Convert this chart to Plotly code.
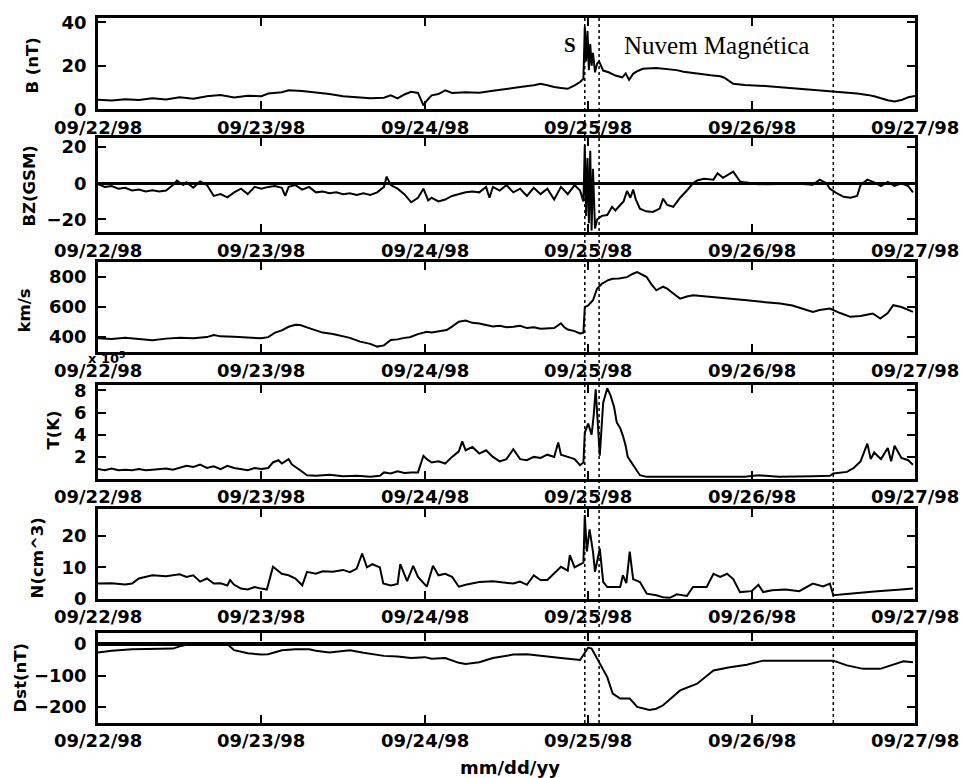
import pandas as pd
import plotly.graph_objects as go
from plotly.subplots import make_subplots

# ---------------- data (hours since 1998-09-22 00:00 UT) ----------------
b_hours = [0, 2, 4, 6, 8, 10, 12, 14, 16, 18, 20, 22, 24, 25, 27, 28, 30, 32, 34, 36, 38, 40, 42, 43, 44, 45, 46, 47,
           47.8, 48.3, 49, 50, 51, 52, 54, 56, 58, 60, 62, 64, 65, 66, 67, 68, 69, 70, 70.8, 71.3, 71.5, 71.7, 71.9,
           72.1, 72.3, 72.5, 72.7, 73, 73.3, 73.6, 74.2, 75, 76, 77, 77.5, 78, 78.6, 79.2, 80, 82, 83.6, 85, 86, 88,
           90, 91.4, 92, 93.3, 95, 98, 100, 103, 105, 107.5, 110, 111.5, 113, 114, 116, 117, 118, 119, 120]
b_vals = [4.4, 4.0, 4.6, 4.2, 5.0, 4.5, 5.5, 4.8, 6.0, 6.5, 5.4, 6.2, 6.0, 7.2, 7.8, 8.7, 8.4, 7.8, 7.0, 6.0, 5.4, 5.0,
          5.3, 6.4, 5.0, 6.8, 8.0, 7.5, 1.8, 4.0, 6.4, 7.0, 8.7, 7.5, 7.8, 7.6, 8.5, 9.5, 10.2, 11.0, 11.7, 11.0, 10.2,
          9.8, 9.4, 11.0, 12.5, 14, 38, 22, 36, 18, 30, 20, 26, 17, 20.9, 22, 17.8, 17.0, 15.5, 14.7, 16.5, 13.5, 16.3,
          17.5, 18.6, 19.0, 18.6, 18.0, 17.3, 16.3, 15.6, 15.2, 14.5, 11.7, 11.2, 10.7, 10.2, 9.4, 8.8, 8.2, 7.8, 7.2,
          6.6, 6.0, 4.1, 3.6, 4.2, 5.5, 6.1]

bz_hours = [0, 1, 2, 3, 4, 5, 6, 7, 8, 9, 10, 11, 11.6, 12.5, 13, 14, 15, 16, 17, 18, 19, 20, 21, 22, 23, 24, 25, 26,
            27, 27.5, 28, 29, 30, 31, 32, 33, 34, 35, 36, 37, 38, 39, 40, 41, 42, 42.4, 43, 44, 45, 46, 47, 47.8,
            48.5, 49, 50, 51, 52, 53, 54, 55, 56, 57, 57.5, 58, 59, 60, 61, 62, 63, 64, 65, 66, 67, 68, 69, 70, 70.8,
            71.3, 71.5, 71.7, 71.9, 72.1, 72.3, 72.5, 72.7, 73, 73.3, 74, 74.8, 75.5, 76, 76.7, 77.2, 77.7, 78.2,
            78.6, 79, 79.6, 80.5, 81.5, 82.5, 83, 83.6, 84.5, 85.5, 86.5, 87.4, 88, 89, 90.4, 91, 91.8, 92.5, 93.3,
            94.3, 95, 97, 100, 103, 105, 106, 107, 107.5, 108.5, 109.5, 110.5, 111.5, 112, 113, 114, 115, 116, 117,
            118, 119, 119.7]
bz_vals = [-0.5, -2, -1.5, -3, -2.5, -4, -3.5, -4.5, -3.8, -4.5, -4, -1, 1.5, -1, 0.5, -2.5, 1.0, -1, -7, -6, -7.8, -5,
           -3, -6, -2, -3, -2, -1.5, -2.5, -7, -2, -1, -3.5, -2, -5, -4.5, -5.5, -5, -6, -5.5, -6.5, -5.5, -6.5, -5,
           -2, 3.7, -1, -3, -6, -10.5, -8, -3, -9.5, -8, -10, -9, -7, -6, -5, -4.5, -5, -2, -8, -2, -4, -1, -5, -3,
           -7, -2.5, -6, -3, -9, -2, -6, -1, -4, -10, 21, -18, 14, -22, 18, -26, 8, -25, -20, -18, -17.5, -13, -15,
           -12, -10, -4.3, -8, -3.5, -9, -14, -15.5, -15.8, -14, -8.5, -12, -13, -8, -4, 0, 1.5, 2.5, 2, 5.5, 3, 4.5,
           6.4, 1, 0.5, -0.5, -0.5, -0.3, -0.8, 2, 0, -3, -5.5, -7.5, -8, -7, -1, 2, 0.5, -1.5, 0.8, -1.5, 0, -1.5,
           -5]

v_hours = [0, 2, 4, 6, 8, 10, 12, 14, 16, 17, 18, 20, 22, 24, 25, 26, 27, 28, 29, 29.7, 31, 32, 33, 34.5, 36, 37,
           38.5, 40, 41, 42, 43, 44, 45, 45.8, 47, 48.3, 49, 50, 51.2, 52, 53, 54, 55, 56, 57, 58, 59, 60, 61, 62,
           63, 64, 65, 66, 67, 68, 68.5, 69, 70, 70.8, 71.3, 71.5, 72, 72.7, 73.3, 74, 75, 75.6, 76.5, 77.7, 78.5,
           79.2, 80, 80.6, 81.3, 82, 83, 83.6, 84.5, 85.5, 86.5, 87.4, 89, 90.4, 93, 95.3, 98, 100.2, 102, 104, 105,
           106, 107.5, 109, 110.5, 112, 113.8, 114.9, 116, 116.8, 118, 119.7]
v_vals = [392, 388, 395, 385, 380, 390, 395, 392, 400, 414, 405, 402, 395, 392, 400, 430, 445, 469, 482, 480, 460, 447,
          430, 421, 405, 395, 370, 355, 337, 345, 381, 385, 395, 399, 420, 436, 430, 440, 447, 470, 502, 510, 495, 491,
          480, 470, 475, 465, 469, 475, 460, 465, 455, 458, 460, 491, 465, 450, 440, 425, 430, 600, 610, 645, 722, 755,
          780, 788, 790, 799, 820, 832, 810, 799, 750, 711, 735, 722, 690, 656, 670, 678, 672, 667, 655, 645, 632, 623,
          610, 585, 568, 580, 590, 560, 535, 540, 557, 524, 560, 612, 600, 568]

t_hours = [0, 1, 2, 3, 4, 5, 6, 7, 8, 9, 10, 11, 12, 13, 14, 15, 16, 17, 18, 19, 20, 21, 22, 23, 24, 25, 25.7, 26.5,
           27, 28, 28.5, 29.7, 30.7, 32, 34, 36, 38, 40, 41.4, 42, 43, 44, 45, 46, 47, 47.8, 48.3, 49, 50, 51, 52, 53,
           53.5, 54, 55, 56, 57, 58, 59, 60, 61, 62, 63, 64, 65, 66, 67, 67.6, 68, 69, 70, 70.8, 71.3, 71.5, 72, 72.5,
           72.8, 73.1, 73.4, 73.7, 74.2, 74.8, 75.3, 75.8, 76.2, 76.7, 77.1, 77.5, 77.8, 78.6, 79.6, 80.6, 85, 90, 95,
           97, 100, 105, 107.5, 108, 110, 111, 112, 113, 113.5, 114, 115, 116, 116.5, 117, 118, 119, 119.7]
t_vals = [0.9, 0.8, 0.95, 0.8, 0.85, 0.8, 0.9, 0.8, 0.85, 0.9, 0.95, 0.85, 1.0, 1.2, 1.1, 1.3, 1.0, 1.15, 0.9, 1.2,
          1.0, 0.9, 0.8, 1.0, 0.9, 1.0, 1.5, 1.7, 1.4, 1.8, 1.3, 0.8, 0.35, 0.3, 0.4, 0.25, 0.3, 0.2, 0.3, 0.6, 0.5,
          0.7, 0.55, 0.6, 0.6, 2.1, 1.8, 1.5, 1.6, 1.4, 2.0, 2.5, 3.4, 2.6, 2.9, 2.3, 2.6, 2.0, 1.6, 1.8, 2.7, 1.8,
          1.7, 2.0, 1.9, 2.2, 2.0, 3.3, 2.2, 2.0, 1.8, 1.25, 1.5, 4.2, 5.0, 4.0, 5.7, 8.1, 5.5, 2.1, 6.9, 8.2, 7.5,
          6.5, 5.1, 4.6, 3.9, 3.0, 2.0, 1.25, 0.35, 0.2, 0.2, 0.25, 0.2, 0.35, 0.2, 0.25, 0.3, 0.5, 0.65, 1.0, 1.6,
          3.2, 1.8, 2.4, 1.8, 2.8, 1.6, 3.0, 1.9, 1.7, 1.3]

n_hours = [0, 2, 4, 5, 6, 8, 10, 12, 13, 14, 15, 16, 17, 18, 19, 19.4, 20, 21, 22, 23, 24, 24.8, 25.7, 26.5, 27, 28,
           29, 29.7, 30, 30.7, 32, 33, 34.5, 36, 37, 38, 38.8, 39.5, 40.3, 41.4, 41.9, 43, 44, 44.4, 45.4, 46.3, 47,
           48.3, 49.2, 50, 51, 52, 53, 54, 55, 56, 58, 60, 61, 62, 63, 64, 65, 66, 67, 68, 69, 69.3, 70, 70.8, 71.3,
           71.5, 71.8, 72.2, 72.7, 73, 73.7, 74.2, 74.8, 76.7, 77.1, 77.6, 78.1, 78.6, 79.6, 80.6, 82, 83, 84, 85,
           86.5, 87.4, 89.4, 90.4, 91.4, 92.4, 93.3, 94.3, 96, 97, 97.7, 99, 101, 103, 105, 106.5, 107.5, 108, 110,
           112, 114, 116, 118, 119.7]
n_vals = [4.9, 5.0, 4.6, 4.9, 6.5, 7.5, 7.2, 7.8, 7.0, 7.5, 5.5, 6.5, 4.9, 5.0, 4.3, 6.0, 4.5, 3.3, 3.0, 3.8, 3.3, 3.0,
          10.2, 9.0, 8.0, 7.5, 6.5, 5.0, 4.3, 8.6, 8.0, 8.8, 8.6, 9.2, 8.5, 9.6, 14.4, 10.0, 11.0, 10.0, 4.9, 4.3,
          4.8, 11.0, 5.7, 10.5, 7.0, 3.9, 10.5, 7.5, 8.0, 7.0, 3.9, 4.5, 5.0, 5.4, 5.6, 5.0, 4.9, 5.5, 4.5, 7.5, 6.0,
          6.0, 8.0, 10.2, 9.0, 13.9, 10.0, 10.8, 11.5, 26.5, 15.0, 22, 15, 8.6, 16.0, 5.4, 3.8, 3.8, 7.5, 5, 15.0,
          6.3, 5.4, 1.7, 1.2, 0.6, 0.4, 1.5, 1.0, 3.8, 3.8, 8.0, 7.0, 8.0, 6.3, 2.2, 2.5, 4.5, 2.2, 2.8, 3.0, 2.5,
          4.9, 4.0, 4.9, 1.2, 1.5, 2.0, 2.4, 2.6, 3.0, 3.3]

dst_hours = [0, 2, 5, 8, 11, 12, 13, 15, 17, 19, 20, 22, 24, 25, 27, 29, 31, 32, 34, 36, 37, 39, 42, 44, 46, 48, 49,
             51, 53, 54, 56, 58, 61, 63, 66, 68, 70.8, 71.5, 72, 72.5, 73.3, 74.8, 75.6, 76.7, 78.1, 79.2, 81, 82,
             83, 85.5, 88, 90.4, 92.8, 95.3, 97.7, 101, 105, 108, 110, 112.4, 114.9, 117, 118.3, 119.7]
dst_vals = [-27, -22, -17, -17, -15, -8, -3, -1, -1, -1, -20, -30, -34, -33, -20, -17, -17, -22, -27, -22, -20, -28,
            -38, -40, -45, -42, -47, -45, -60, -64, -58, -45, -34, -33, -41, -45, -51, -30, -12, -15, -48, -105, -157,
            -173, -173, -199, -209, -205, -194, -147, -126, -84, -74, -66, -53, -53, -55, -53, -68, -79, -79, -65, -55,
            -58]

event_hours = [71.5, 73.6, 108.0]   # shock, cloud start, cloud end
day_ticks = ["1998-09-22", "1998-09-23", "1998-09-24", "1998-09-25", "1998-09-26", "1998-09-27"]
day_labels = ["09/22/98", "09/23/98", "09/24/98", "09/25/98", "09/26/98", "09/27/98"]

# ---------------- figure ----------------
T0 = pd.Timestamp("1998-09-22 00:00")


def to_dates(hours):
    return [T0 + pd.Timedelta(hours=h) for h in hours]


W, H = 964, 778
L, R, TOP, BOT = 98, 49, 12, 55
PW, PH = W - L - R, H - TOP - BOT


def py(ypx):
    return (H - BOT - ypx) / PH


def px(xpx):
    return (xpx - L) / PW


panels = [  # (hours, vals, top_px, bottom_px, range, tickvals, zeroline width)
    (b_hours, b_vals, 12, 104, [0, 42], [0, 20, 40], 0),
    (bz_hours, bz_vals, 133, 228, [-27, 25], [-20, 0, 20], 2.5),
    (v_hours, v_vals, 258, 349, [300, 900], [400, 600, 800], 0),
    (t_hours, t_vals, 382, 477, [0, 8.5], [2, 4, 6, 8], 0),
    (n_hours, n_vals, 507, 598, [0, 28.5], [0, 10, 20], 0),
    (dst_hours, dst_vals, 632, 723, [-250, 35], [-200, -100, 0], 3.5),
]

fig = make_subplots(rows=6, cols=1)
font_b = dict(family="DejaVu Sans", size=18, color="black", weight="bold")

for i, (hh, vv, top, bot, rng, tv, zw) in enumerate(panels, start=1):
    fig.add_trace(go.Scatter(x=to_dates(hh), y=vv, mode="lines",
                             line=dict(color="black", width=2), showlegend=False),
                  row=i, col=1)
    fig.update_yaxes(row=i, col=1, domain=[py(bot), py(top)], range=rng, tickvals=tv,
                     showline=True, linecolor="black", linewidth=2.5, mirror="ticks",
                     ticks="inside", ticklen=8, tickwidth=2, tickcolor="black",
                     showgrid=False, zeroline=zw > 0, zerolinecolor="black",
                     zerolinewidth=max(zw, 1), tickfont=font_b, ticklabelstandoff=5)
    fig.update_xaxes(row=i, col=1, type="date",
                     range=[T0, T0 + pd.Timedelta(hours=120)],
                     tickvals=day_ticks, showticklabels=False,
                     showline=True, linecolor="black", linewidth=2.5, mirror="ticks",
                     ticks="inside", ticklen=8, tickwidth=2, tickcolor="black",
                     showgrid=False, zeroline=False)
    xref = "x" if i == 1 else f"x{i}"
    for d, lab in zip(day_ticks, day_labels):
        fig.add_annotation(text=lab, xref=xref, yref="paper", x=d, y=py(bot + 18),
                           showarrow=False, xanchor="center", yanchor="middle", font=font_b)

# event dotted lines across all panels
for eh in event_hours:
    t = T0 + pd.Timedelta(hours=eh)
    fig.add_shape(type="line", xref="x", yref="paper", x0=t, x1=t, y0=0, y1=1,
                  line=dict(color="black", width=1.5, dash="dot"))

# y-axis titles
ytitles = [("B (nT)", 33, 60), ("BZ(GSM)", 30, 182), ("km/s", 25, 307),
           ("T(K)", 53, 428), ("N(cm^3)", 37, 556), ("Dst(nT)", 20, 677)]
for txt, xp, yp in ytitles:
    fig.add_annotation(text=txt, xref="paper", yref="paper", x=px(xp), y=py(yp),
                       textangle=-90, showarrow=False, xanchor="center", yanchor="middle",
                       font=dict(family="DejaVu Sans", size=16.5, color="black", weight="bold"))

fig.add_annotation(text="x 10<sup>5</sup>", xref="paper", yref="paper", x=px(86), y=py(355),
                   showarrow=False, xanchor="left", yanchor="middle",
                   font=dict(family="DejaVu Sans", size=13, color="black", weight="bold"))

fig.add_annotation(text="mm/dd/yy", xref="paper", yref="paper", x=px(510), y=py(768),
                   showarrow=False, xanchor="center", yanchor="middle",
                   font=dict(family="DejaVu Sans", size=18, color="black", weight="bold"))

fig.add_annotation(text="<b>S</b>", xref="x", yref="y", x=T0 + pd.Timedelta(hours=69.3), y=29.5,
                   showarrow=False, xanchor="center", yanchor="middle",
                   font=dict(family="Liberation Serif", size=21, color="black"))
fig.add_annotation(text="Nuvem Magnética", xref="x", yref="y", x=T0 + pd.Timedelta(hours=90.9), y=29.5,
                   showarrow=False, xanchor="center", yanchor="middle",
                   font=dict(family="Liberation Serif", size=25, color="black"))

fig.update_layout(width=W, height=H, margin=dict(l=L, r=R, t=TOP, b=BOT),
                  plot_bgcolor="white", paper_bgcolor="white", showlegend=False)

fig.write_html("out.html")
